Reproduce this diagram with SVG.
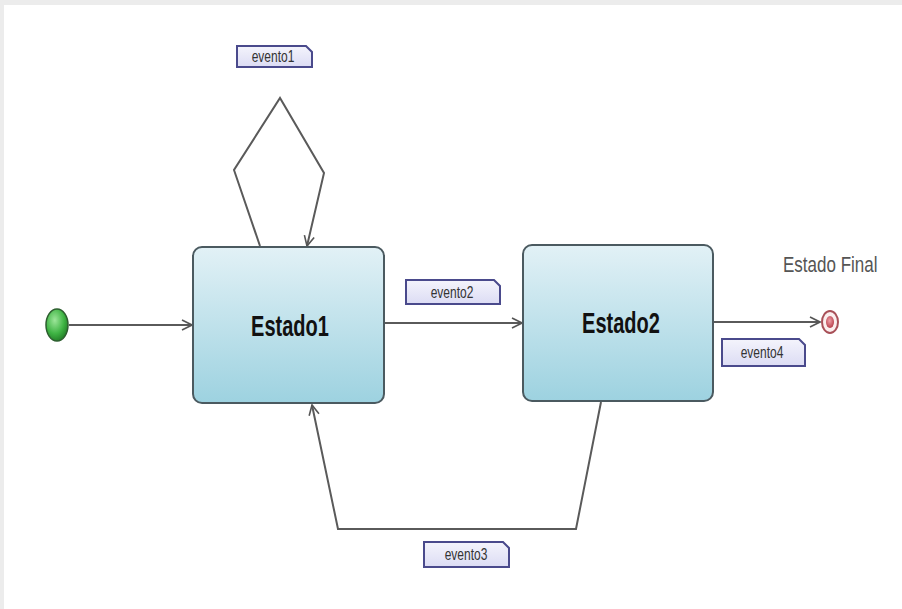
<svg xmlns="http://www.w3.org/2000/svg" width="902" height="609" viewBox="0 0 902 609">
  <defs>
    <linearGradient id="stateFill" x1="0" y1="0" x2="0" y2="1">
      <stop offset="0" stop-color="#e2f1f6"/>
      <stop offset="1" stop-color="#9dd2e0"/>
    </linearGradient>
    <linearGradient id="noteFill" x1="0" y1="0" x2="0" y2="1">
      <stop offset="0" stop-color="#f4f4fc"/>
      <stop offset="1" stop-color="#dcdcf4"/>
    </linearGradient>
    <radialGradient id="startFill" cx="0.4" cy="0.35" r="0.7">
      <stop offset="0" stop-color="#9de69a"/>
      <stop offset="0.6" stop-color="#3fb444"/>
      <stop offset="1" stop-color="#1f7a24"/>
    </radialGradient>
    <radialGradient id="endFill" cx="0.45" cy="0.4" r="0.6">
      <stop offset="0" stop-color="#f0a0a8"/>
      <stop offset="1" stop-color="#b8404c"/>
    </radialGradient>
    <marker id="open" viewBox="0 0 12 12" refX="11" refY="6" markerWidth="12" markerHeight="12" markerUnits="userSpaceOnUse" orient="auto">
      <path d="M1,1 L11,6 L1,11" fill="none" stroke="#555" stroke-width="1.6"/>
    </marker>
  </defs>
  <style>
    .state { fill: url(#stateFill); stroke: #4b5a60; stroke-width: 2; }
    .state-label { font-family: "Liberation Sans", Arial, sans-serif; font-weight: bold; font-size: 20px; fill: #111; text-anchor: middle; }
    .edge { fill: none; stroke: #5a5a5a; stroke-width: 2; }
    .note { fill: url(#noteFill); stroke: #4a4a8c; stroke-width: 2; }
    .note-label { font-family: "Liberation Sans", Arial, sans-serif; font-size: 12px; fill: #333; text-anchor: middle; }
    .caption { font-family: "Liberation Sans", Arial, sans-serif; font-size: 17px; fill: #555; }
  </style>

  <!-- page frame -->
  <rect x="0" y="0" width="902" height="609" fill="#ffffff"/>
  <rect x="0" y="0" width="902" height="5" fill="#ececec"/>
  <rect x="0" y="0" width="4" height="609" fill="#ececec"/>

  <!-- transitions -->
  <g id="connectors">
    <path class="edge" d="M69,325 L192,325" marker-end="url(#open)"/>
    <path class="edge" d="M260,246 L234,170 L280,98 L324,173 L307,246" marker-end="url(#open)"/>
    <path class="edge" d="M385,323 L522,323" marker-end="url(#open)"/>
    <path class="edge" d="M714,322 L820,322" marker-end="url(#open)"/>
    <path class="edge" d="M601,402 L576,529 L338,529 L312,405" marker-end="url(#open)"/>
  </g>

  <!-- initial pseudo-state -->
  <g id="initial">
    <ellipse cx="57" cy="325" rx="11" ry="16" fill="url(#startFill)" stroke="#2d5e2f" stroke-width="1.5"/>
  </g>

  <g id="estado1">
    <rect class="state" x="193" y="247" width="191" height="156" rx="9" ry="9"/>
    <text class="state-label" transform="translate(290,336) scale(1,1.5)" x="0" y="0">Estado1</text>
  </g>

  <g id="estado2">
    <rect class="state" x="523" y="245" width="190" height="156" rx="9" ry="9"/>
    <text class="state-label" transform="translate(621,333) scale(1,1.5)" x="0" y="0">Estado2</text>
  </g>

  <!-- final state -->
  <g id="final">
    <ellipse cx="830" cy="322" rx="8" ry="11" fill="#fbeeee" stroke="#a85058" stroke-width="2"/>
    <ellipse cx="830" cy="322" rx="4" ry="6" fill="url(#endFill)"/>
    <text class="caption" transform="translate(783,272) scale(1,1.35)" x="0" y="0">Estado Final</text>
  </g>

  <!-- event notes -->
  <g id="evento1">
    <path class="note" d="M237,46 L306,46 L312,52 L312,67 L237,67 Z"/>
    <text class="note-label" transform="translate(273,62) scale(1,1.4)">evento1</text>
  </g>
  <g id="evento2">
    <path class="note" d="M406,280 L494,280 L500,286 L500,304 L406,304 Z"/>
    <text class="note-label" transform="translate(452,298) scale(1,1.4)">evento2</text>
  </g>
  <g id="evento4">
    <path class="note" d="M722,339 L799,339 L805,345 L805,366 L722,366 Z"/>
    <text class="note-label" transform="translate(762,358) scale(1,1.4)">evento4</text>
  </g>
  <g id="evento3">
    <path class="note" d="M424,542 L503,542 L509,548 L509,567 L424,567 Z"/>
    <text class="note-label" transform="translate(466,560) scale(1,1.4)">evento3</text>
  </g>
</svg>
